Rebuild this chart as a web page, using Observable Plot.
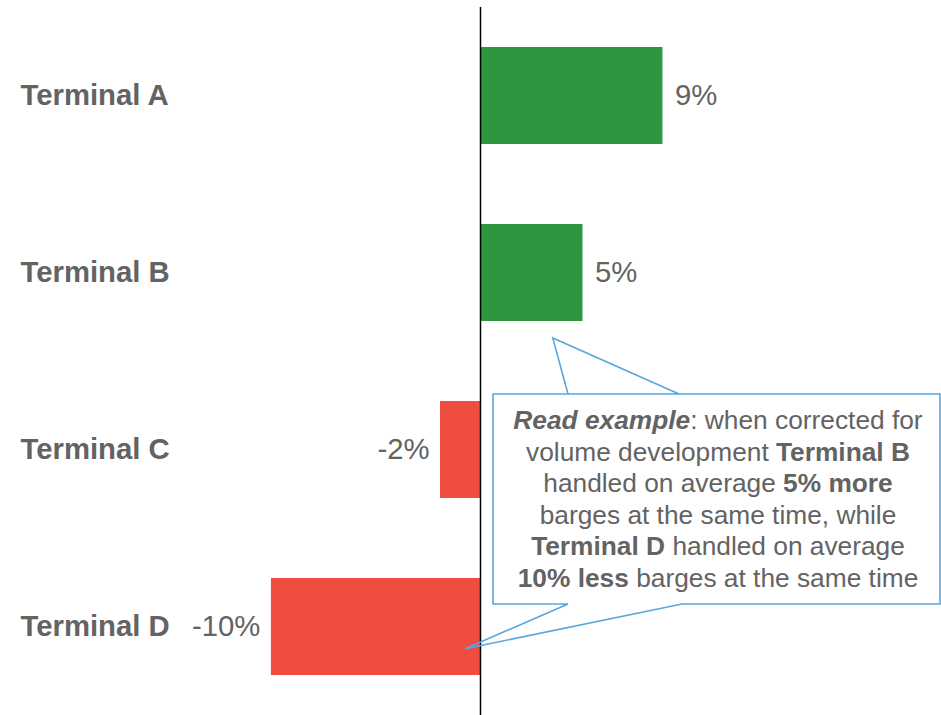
<!DOCTYPE html>
<html>
<head>
<meta charset="utf-8">
<script src="https://cdn.jsdelivr.net/npm/d3@7"></script>
<script src="https://cdn.jsdelivr.net/npm/@observablehq/plot@0.6"></script>
<style>
  html, body { margin: 0; padding: 0; background: #fff; }
  #chart svg { display: block; }
</style>
</head>
<body>
<div id="chart"></div>
<script>
// ---- data ----
const terminals = ["Terminal A", "Terminal B", "Terminal C", "Terminal D"];
const values = [8.9, 5.0, -1.95, -10.2];
const valueLabels = ["9%", "5%", "-2%", "-10%"];

// callout text (segments: [text, style])
const calloutLines = [
  [["Read example", "bi"], [": when corrected for", "n"]],
  [["volume development ", "n"], ["Terminal B", "b"]],
  [["handled on average ", "n"], ["5% more", "b"]],
  [["barges at the same time, while", "n"]],
  [["Terminal D", "b"], [" handled on average", "n"]],
  [["10% less", "b"], [" barges at the same time", "n"]]
];

const GREEN = "#2e963f";
const RED = "#ef4e3f";
const TEXT = "#636363";
const BLUE = "#58a7dd";
const FONT = "'Liberation Sans', Arial, Helvetica, sans-serif";

const data = terminals.map((name, i) => ({name, value: values[i], label: valueLabels[i]}));

const W = 941, H = 715;
const pxPerUnit = 20.5;
const zeroPx = 480;

const plot = Plot.plot({
  width: W,
  height: H,
  marginTop: 7,
  marginBottom: 0,
  marginLeft: 0,
  marginRight: 0,
  style: {fontFamily: FONT, background: "#fff"},
  x: {domain: [-zeroPx / pxPerUnit, (W - zeroPx) / pxPerUnit], axis: null},
  y: {domain: terminals, paddingInner: 0.45, paddingOuter: 0.225, axis: null},
  marks: [
    Plot.barX(data, {x: "value", y: "name", fill: d => d.value >= 0 ? GREEN : RED}),
    Plot.ruleX([0], {stroke: "#000", strokeWidth: 1.5}),
    Plot.text(data, {
      y: "name", text: "name", frameAnchor: "left", dx: 20, textAnchor: "start",
      fontWeight: "bold", fontSize: 29.3, fill: TEXT
    }),
    Plot.text(data.filter(d => d.value >= 0), {
      x: "value", y: "name", text: "label", dx: 12, textAnchor: "start", fontSize: 29.3, fill: TEXT
    }),
    Plot.text(data.filter(d => d.value < 0), {
      x: "value", y: "name", text: "label", dx: -11, textAnchor: "end", fontSize: 29.3, fill: TEXT
    })
  ]
});

document.getElementById("chart").appendChild(plot);

// ---- callout annotation ----
const xs = plot.scale("x"), ys = plot.scale("y");
const bw = ys.bandwidth;
const box = {x0: 493, y0: 394, x1: 940, y1: 604};
const tip1 = [xs.apply(3.55), ys.apply("Terminal B") + bw + 17];
const tip2 = [xs.apply(-0.73), ys.apply("Terminal D") + bw * 0.73];
const topBase = [568, 679];
const botBase = [568, 682];

const svg = d3.select(plot);
const g = svg.append("g");
const path = d3.path();
path.moveTo(box.x0, box.y0);
path.lineTo(box.x1, box.y0);
path.lineTo(box.x1, box.y1);
path.lineTo(botBase[1], box.y1);
path.lineTo(tip2[0], tip2[1]);
path.lineTo(botBase[0], box.y1);
path.lineTo(box.x0, box.y1);
path.closePath();
path.moveTo(topBase[0], box.y0);
path.lineTo(tip1[0], tip1[1]);
path.lineTo(topBase[1], box.y0);
g.append("path").attr("d", path.toString()).attr("fill", "none")
  .attr("stroke", BLUE).attr("stroke-width", 1.6).attr("stroke-linejoin", "miter");

const cx = (box.x0 + box.x1) / 2 + 1.5;
const baseline0 = 429, lineH = 31.6;
const txt = g.append("text")
  .attr("text-anchor", "middle")
  .attr("font-family", FONT)
  .attr("font-size", 26.3)
  .attr("fill", TEXT);
calloutLines.forEach((segs, i) => {
  const line = txt.append("tspan").attr("x", cx).attr("y", baseline0 + i * lineH);
  segs.forEach(([s, st]) => {
    const t = line.append("tspan").text(s);
    if (st.includes("b")) t.attr("font-weight", "bold");
    if (st.includes("i")) t.attr("font-style", "italic");
  });
});
</script>
</body>
</html>
